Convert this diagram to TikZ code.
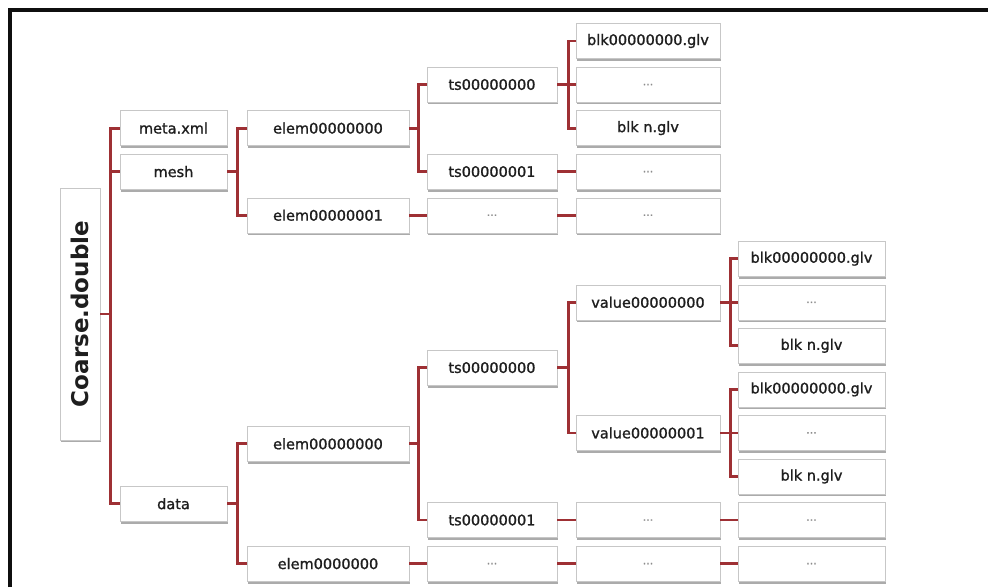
\documentclass[tikz,border=0pt]{standalone}
\usepackage{fontspec}
\usepackage{graphicx}
\setmainfont{DejaVu Sans}
\newfontfamily\boxfont{DejaVu Sans}[FakeBold=1.2]
\usepackage{tikz}
\usetikzlibrary{shadows}
\definecolor{dirred}{RGB}{158,48,52}
\definecolor{dirtext}{RGB}{30,30,30}
\definecolor{dirframe}{RGB}{15,15,15}

\begin{document}
\begin{tikzpicture}[
  x=1pt, y=-1pt,
  every node/.style={font=\boxfont\fontsize{14.5}{16}\selectfont},
  box/.style={draw=black!22, fill=white, inner sep=0pt,
              minimum height=35pt, text=dirtext,
              drop shadow={shadow xshift=1.2pt, shadow yshift=-2.4pt,
                           fill=black!60, opacity=0.55}},
  dots/.style={box, font=\boxfont\fontsize{11}{12}\selectfont, text=black!45},
  colA/.style={minimum width=107pt},
  colB/.style={minimum width=162pt},
  colC/.style={minimum width=130pt},
  colD/.style={minimum width=144pt},
  colE/.style={minimum width=147pt},
  link/.style={draw=dirred, line width=2.8pt}
]
\useasboundingbox (0,0) rectangle (988,587);

%% ── FRAME ───────────────────────────────────────────────────────
\draw[dirframe, line width=3.2pt] (10,587) -- (10,10) -- (988,10);

%% ── ROOT ────────────────────────────────────────────────────────
\node[box, minimum width=40pt, minimum height=252pt,
      font=\bfseries\fontsize{23}{26}\selectfont] (root) at (80,314)
  {\rotatebox{90}{Coarse.double}};

%% ── LEVEL 1 (x = 173.5) ────────────────────────────────────────
\node[box, colA] (meta) at (173.5,128.1) {meta.xml};
\node[box, colA] (mesh) at (173.5,171.6) {mesh};
\node[box, colA] (data) at (173.5,503.7) {data};

%% ── MESH BRANCH ─────────────────────────────────────────────────
\node[box, colB] (melemA) at (328,128.1) {elem00000000};
\node[box, colB] (melemB) at (328,215.2) {elem00000001};

\node[box, colC] (mtsA)   at (492,84.5)  {ts00000000};
\node[box, colC] (mtsB)   at (492,171.6) {ts00000001};
\node[dots, colC] (mdotsC) at (492,215.2) {...};

\node[box, colD] (mblkA)  at (648,41.0)  {blk00000000.glv};
\node[dots, colD] (mdotsA) at (648,84.5)  {...};
\node[box, colD] (mblkN)  at (648,128.1) {blk n.glv};
\node[dots, colD] (mdotsB) at (648,171.6) {...};
\node[dots, colD] (mdotsD) at (648,215.2) {...};

%% ── DATA BRANCH ─────────────────────────────────────────────────
\node[box, colB] (delemA) at (328,443.8) {elem00000000};
\node[box, colB] (delemB) at (328,563.6) {elem0000000};

\node[box, colC] (dtsA)   at (492,367.6) {ts00000000};
\node[box, colC] (dtsB)   at (492,520.0) {ts00000001};
\node[dots, colC] (ddotsC) at (492,563.6) {...};

\node[box, colD] (dvalA)  at (648,302.3) {value00000000};
\node[box, colD] (dvalB)  at (648,432.9) {value00000001};
\node[dots, colD] (ddotsT) at (648,520.0) {...};
\node[dots, colD] (ddotsE) at (648,563.6) {...};

\node[box, colE] (dblkA)  at (811.5,258.7) {blk00000000.glv};
\node[dots, colE] (ddotsA) at (811.5,302.3) {...};
\node[box, colE] (dblkN)  at (811.5,345.8) {blk n.glv};
\node[box, colE] (dblkB)  at (811.5,389.4) {blk00000000.glv};
\node[dots, colE] (ddotsB) at (811.5,432.9) {...};
\node[box, colE] (dblkM)  at (811.5,476.5) {blk n.glv};
\node[dots, colE] (ddotsU) at (811.5,520.0) {...};
\node[dots, colE] (ddotsF) at (811.5,563.6) {...};

%% ── CONNECTORS ──────────────────────────────────────────────────
\foreach \kid in {meta,mesh,data}
  \draw[link] (root.east) -- ++(10,0) |- (\kid.west);

\foreach \kid in {melemA,melemB}
  \draw[link] (mesh.east) -- ++(10,0) |- (\kid.west);
\foreach \kid in {mtsA,mtsB}
  \draw[link] (melemA.east) -- ++(9,0) |- (\kid.west);
\foreach \kid in {mblkA,mdotsA,mblkN}
  \draw[link] (mtsA.east) -- ++(11,0) |- (\kid.west);
\draw[link] (mtsB.east) -- (mdotsB.west);
\draw[link] (melemB.east) -- (mdotsC.west);
\draw[link] (mdotsC.east) -- (mdotsD.west);

\foreach \kid in {delemA,delemB}
  \draw[link] (data.east) -- ++(10,0) |- (\kid.west);
\foreach \kid in {dtsA,dtsB}
  \draw[link] (delemA.east) -- ++(9,0) |- (\kid.west);
\foreach \kid in {dvalA,dvalB}
  \draw[link] (dtsA.east) -- ++(11,0) |- (\kid.west);
\foreach \kid in {dblkA,ddotsA,dblkN}
  \draw[link] (dvalA.east) -- ++(10,0) |- (\kid.west);
\foreach \kid in {dblkB,ddotsB,dblkM}
  \draw[link] (dvalB.east) -- ++(10,0) |- (\kid.west);
\draw[link] (dtsB.east) -- (ddotsT.west);
\draw[link] (ddotsT.east) -- (ddotsU.west);
\draw[link] (delemB.east) -- (ddotsC.west);
\draw[link] (ddotsC.east) -- (ddotsE.west);
\draw[link] (ddotsE.east) -- (ddotsF.west);

\end{tikzpicture}
\end{document}
